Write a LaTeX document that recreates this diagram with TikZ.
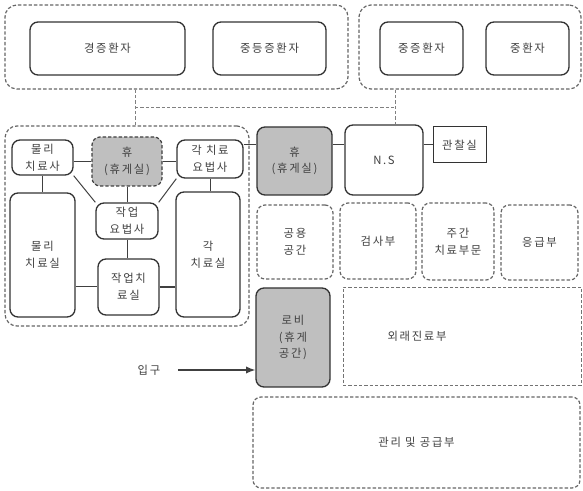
\documentclass[tikz,border=0pt]{standalone}
\usepackage{fontspec}
\usetikzlibrary{arrows.meta}
\newfontfamily\krfont[LetterSpace=15]{Noto Sans CJK KR}
\tikzset{every picture/.style={line width=0.75pt}}

\begin{document}
\begin{tikzpicture}[x=0.75pt,y=0.75pt,yscale=-1,xscale=1,
  room/.style={draw=black!80, line width=1pt, rounded corners=6pt, fill=white, inner sep=0.75pt, align=center, font=\krfont\fontsize{8.5}{12.5}\selectfont, text=black!75},
  dashroom/.style={room, draw=black!60, line width=0.9pt, dash pattern={on 2.5pt off 1.5pt}},
  zone/.style={draw=black!60, line width=0.9pt, dash pattern={on 2.5pt off 1.5pt}, rounded corners=9pt},
  rest/.style={fill=black!25},
  link/.style={draw=black!75, line width=0.75pt},
  flow/.style={draw=black!50, line width=0.75pt, dash pattern={on 2.5pt off 1.5pt}}]
\useasboundingbox (0,0) rectangle (583,491);

%Zones
\node [zone, minimum width=257.25pt, minimum height=63pt] (grpA) at (176.5,47) {};
\node [zone, minimum width=166.5pt, minimum height=63pt] (grpB) at (470,47) {};
\node [zone, minimum width=183pt, minimum height=150pt] (grpC) at (127,226) {};

%Patient wards
\node [room, minimum width=116.25pt, minimum height=39.75pt] (mild) at (107.5,48.5) {경증환자};
\node [room, minimum width=84.75pt, minimum height=39.75pt] (moderate) at (269.5,48.5) {중등증환자};
\node [room, minimum width=62.25pt, minimum height=39.75pt] (severe) at (421.5,48.5) {중증환자};
\node [room, minimum width=62.25pt, minimum height=39.75pt] (critical) at (527.5,48.5) {중환자};

%Therapy zone
\node [room, minimum width=45.75pt, minimum height=26.25pt] (ptstaff) at (42.5,157.5) {물리\\치료사};
\node [dashroom, rest, draw=black!75, minimum width=52.5pt, minimum height=36.75pt] (restA) at (127,161.5) {휴\\(휴게실)};
\node [room, minimum width=49.5pt, minimum height=28.5pt] (thstaff) at (210,159) {각 치료\\요법사};
\node [room, minimum width=46.5pt, minimum height=27pt] (otstaff) at (127,221) {작업\\요법사};
\node [room, minimum width=48.75pt, minimum height=93pt] (ptroom) at (42.5,255) {물리\\치료실};
\node [room, minimum width=45.75pt, minimum height=42pt] (otroom) at (128.5,287) {작업치\\료실};
\node [room, minimum width=48pt, minimum height=93.75pt] (throom) at (208,254.5) {각\\치료실};

%Nursing
\node [room, rest, minimum width=56.25pt, minimum height=51pt] (restB) at (294.5,161) {휴\\(휴게실)};
\node [room, minimum width=58.5pt, minimum height=52.5pt] (ns) at (384,160) {N.S};
\node [room, sharp corners, line width=0.75pt, minimum width=39.75pt, minimum height=27pt] (obs) at (459.5,145) {관찰실};

%Departments
\node [dashroom, minimum width=57pt, minimum height=55.5pt] (common) at (295,242) {공용\\공간};
\node [dashroom, minimum width=57pt, minimum height=57pt] (exam) at (378,241) {검사부};
\node [dashroom, minimum width=54pt, minimum height=57.75pt] (daycare) at (458,241.5) {주간\\치료부문};
\node [dashroom, minimum width=57.75pt, minimum height=56.25pt] (er) at (539.5,242.5) {응급부};
\node [room, rest, minimum width=55.5pt, minimum height=74.25pt] (lobby) at (293,337.5) {로비\\(휴게\\공간)};
\node [dashroom, sharp corners, line width=0.7pt, draw=black!55, minimum width=178.5pt, minimum height=73.5pt] (opd) at (462,336) {};
\node [dashroom, minimum width=245.25pt, minimum height=68.25pt] (mgmt) at (416.5,442.5) {관리 및 공급부};

% Text Node
\node [room, draw=none, fill=none] (opdtxt) at (417,336) {외래진료부};
% Text Node
\node [room, draw=none, fill=none] (entrance) at (149,370) {입구};

%Links
\coordinate (jA) at (135,108);
\coordinate (jB) at (395,108);
\draw [flow] (grpA.south -| jA) -- (grpC.north -| jA);
\draw [flow] (jA) -- (jB);
\draw [flow] (grpB.south -| jB) -- (ns.north -| jB);

\draw [link] (restA.west -| ptstaff.east) -- (restA.west);
\draw [link] (restA.east) -- (restA.east -| thstaff.west);
\draw [link] (ptstaff.south) -- (ptroom.north);
\draw [link] (thstaff.south) -- (thstaff.south |- throom.north);
\draw [link] (restA.south) -- (otstaff.north);
\draw [link] (ptstaff.south east) -- (otstaff.north west);
\draw [link] (thstaff.south west) -- (otstaff.north east);
\draw [link] (otstaff.south) -- (otstaff.south |- otroom.north);
\draw [link] (otroom.west -| ptroom.east) -- (otroom.west);
\draw [link, line width=1.5pt] (otroom.east) -- (otroom.east -| throom.west);

\draw [link] (thstaff.east |- obs) -- (restB.west |- obs);
\draw [link] (restB.east |- obs) -- (ns.west |- obs);
\draw [link] (ns.east |- obs) -- (obs.west);

\draw [link, -{Latex[length=7pt,width=5.5pt]}, line width=1pt, shorten <=12pt] (entrance.east) -- (entrance.east -| lobby.west);

\end{tikzpicture}
\end{document}
